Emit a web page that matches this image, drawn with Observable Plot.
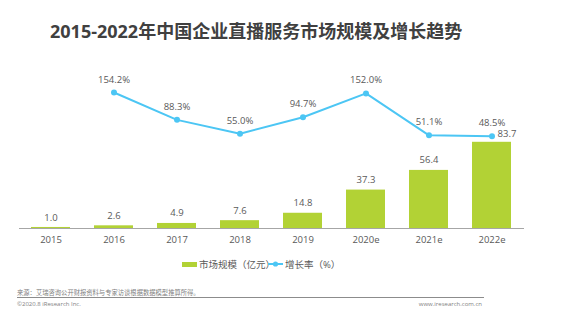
<!DOCTYPE html>
<html><head><meta charset="utf-8">
<script src="https://cdn.jsdelivr.net/npm/d3@7"></script>
<script src="https://cdn.jsdelivr.net/npm/@observablehq/plot@0.6"></script>
<style>
body{margin:0;background:#fff;font-family:"Open Sans","Noto Sans CJK SC",sans-serif;}
#wrap{position:relative;width:565px;height:324px;overflow:hidden;}
#title{position:absolute;top:17px;left:50px;font-size:18px;font-weight:bold;color:#404040;font-family:"Open Sans","Noto Sans CJK SC",sans-serif;white-space:nowrap;}
.layer{position:absolute;left:0;top:40px;}
#legend{position:absolute;top:258px;left:0;width:565px;font-size:9.5px;color:#595959;}
.leg{position:absolute;top:0;white-space:nowrap;line-height:14px;}
#src{position:absolute;left:17px;top:288px;font-size:6.3px;color:#7f7f7f;white-space:nowrap;}
#rule{position:absolute;left:17px;top:297px;width:467px;height:0;border-top:1px solid #8c8c8c;}
#copy{position:absolute;left:17px;top:300px;font-size:6px;color:#7f7f7f;white-space:nowrap;}
#web{position:absolute;right:83px;top:300px;font-size:6px;color:#7f7f7f;white-space:nowrap;}
</style></head>
<body>
<div id="wrap">
  <div id="title">2015-2022年中国企业直播服务市场规模及增长趋势</div>
  <div id="bars" class="layer"></div>
  <div id="line" class="layer"></div>
  <div id="legend"></div>
  <div id="src">来源：艾瑞咨询公开财报资料与专家访谈根据数据模型推算所得。</div>
  <div id="rule"></div>
  <div id="copy">©2020.8 iResearch Inc.</div>
  <div id="web">www.iresearch.com.cn</div>
</div>
<script>
const years = ["2015","2016","2017","2018","2019","2020e","2021e","2022e"];
const marketSize = [1.0, 2.6, 4.9, 7.6, 14.8, 37.3, 56.4, 83.7];
const growthYears = ["2016","2017","2018","2019","2020e","2021e","2022e"];
const growthRate = [154.2, 88.3, 55.0, 94.7, 152.0, 51.1, 48.5];
const seriesNames = ["市场规模（亿元）", "增长率（%）"];

const GREEN = "#b2d235";
const BLUE = "#4cc6f4";
const W = 565, H = 215;
const FONT = '"Open Sans","Noto Sans CJK SC",sans-serif';

const barData = years.map((y, i) => ({year: y, value: marketSize[i], last: i === years.length - 1}));
const lineData = growthYears.map((y, i) => ({year: y, rate: growthRate[i]}));

const xOpts = {type: "band", domain: years, paddingInner: 0.38, paddingOuter: 0.19, align: 0.5};

const bars = Plot.plot({
  width: W, height: H,
  marginLeft: 19, marginRight: 41, marginTop: 85, marginBottom: 27,
  style: {fontFamily: FONT, fontSize: "9.5px", color: "#595959", background: "transparent"},
  x: {...xOpts, label: null, tickSize: 0, tickPadding: 8},
  y: {domain: [0, 100], axis: null},
  marks: [
    Plot.barY(barData, {x: "year", y: "value", fill: GREEN}),
    Plot.ruleY([0], {stroke: "#a6a6a6", strokeWidth: 1}),
    Plot.text(barData.filter(d => !d.last), {x: "year", y: "value", text: d => d.value.toFixed(1), dy: -10, fill: "#595959", fontSize: 9.5}),
    Plot.text(barData.filter(d => d.last), {x: "year", y: "value", text: d => d.value.toFixed(1), dy: -8, dx: 15, fill: "#595959", fontSize: 9.5})
  ]
});
document.getElementById("bars").appendChild(bars);

const line = Plot.plot({
  width: W, height: H,
  marginLeft: 19, marginRight: 41, marginTop: 33, marginBottom: 99,
  style: {fontFamily: FONT, fontSize: "9.5px", background: "transparent"},
  x: {...xOpts, axis: null},
  y: {domain: [0, 200], axis: null},
  marks: [
    Plot.line(lineData, {x: "year", y: "rate", stroke: BLUE, strokeWidth: 2}),
    Plot.dot(lineData, {x: "year", y: "rate", fill: BLUE, r: 3}),
    Plot.text(lineData, {x: "year", y: "rate", text: d => d.rate.toFixed(1) + "%", dy: -13, fill: "#595959", fontSize: 9.5})
  ]
});
document.getElementById("line").appendChild(line);

const legend = document.getElementById("legend");
legend.innerHTML = `
  <div class="leg" style="left:182px;"><span style="display:inline-block;width:15px;height:5px;background:${GREEN};vertical-align:middle;margin-right:2px;position:relative;top:-1px;"></span>${seriesNames[0]}</div>
  <div class="leg" style="left:268px;"><svg width="15" height="8" style="vertical-align:middle;margin-right:2px;position:relative;top:-1px;"><line x1="0" y1="4" x2="15" y2="4" stroke="${BLUE}" stroke-width="2"/><circle cx="7.5" cy="4" r="2.6" fill="${BLUE}"/></svg>${seriesNames[1]}</div>`;
</script>
</body></html>
